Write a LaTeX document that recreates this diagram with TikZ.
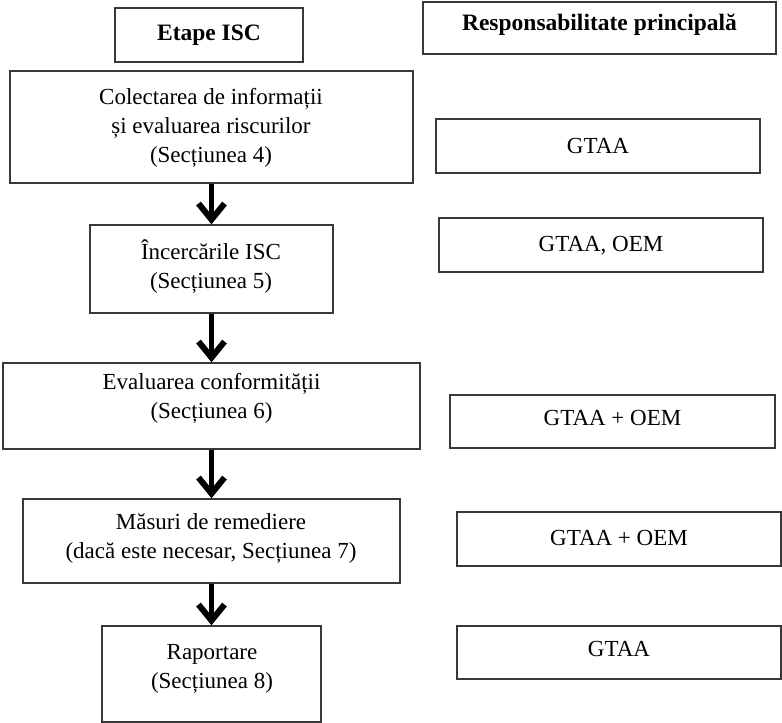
\documentclass[tikz,border=0pt]{standalone}
\usepackage{fontspec}
\setmainfont{Liberation Serif}
\usetikzlibrary{arrows.meta}
\begin{document}
\begin{tikzpicture}[x=1pt,y=-1pt,
  box/.style={draw=black!78,line width=1.4pt,fill=white,rectangle,inner sep=0pt},
  txt/.style={align=center,inner sep=0pt,font=\fontsize{23}{29}\selectfont},
  head/.style={align=center,inner sep=0pt,font=\fontsize{23.5}{29}\selectfont\bfseries},
  flow/.style={line width=5.5pt,-{Straight Barb[length=16pt,width=26pt,line width=6pt]}}]
\useasboundingbox (0,0) rectangle (782,723);
% headers
\node[box,minimum width=188pt,minimum height=54pt] (h1) at (209,35) {};
\node[head] (h1t) at (209,35) {Etape ISC};
\node[box,minimum width=353pt,minimum height=52pt] (h2) at (599.5,28) {};
\node[head] (h2t) at (599.5,25) {Responsabilitate principală};
% stages
\node[box,minimum width=403pt,minimum height=112pt] (s1) at (211.5,127) {};
\node[txt] (s1t) at (211,128) {Colectarea de informații\\și evaluarea riscurilor\\(Secțiunea 4)};
\node[box,minimum width=243pt,minimum height=88pt] (s2) at (211.5,269) {};
\node[txt] (s2t) at (211,267) {Încercările ISC\\(Secțiunea 5)};
\node[box,minimum width=417pt,minimum height=86pt] (s3) at (211.5,406) {};
\node[txt] (s3t) at (211.5,398) {Evaluarea conformității\\(Secțiunea 6)};
\node[box,minimum width=377pt,minimum height=84pt] (s4) at (211.5,541) {};
\node[txt] (s4t) at (211,538) {Măsuri de remediere\\(dacă este necesar, Secțiunea 7)};
\node[box,minimum width=219pt,minimum height=96pt] (s5) at (211.5,674) {};
\node[txt] (s5t) at (212,669) {Raportare\\(Secțiunea 8)};
% responsibilities
\node[box,minimum width=324pt,minimum height=54pt] (r1) at (598,146) {};
\node[txt] (r1t) at (598,146) {GTAA};
\node[box,minimum width=324pt,minimum height=54pt] (r2) at (601,245) {};
\node[txt] (r2t) at (601,246) {GTAA, OEM};
\node[box,minimum width=325pt,minimum height=53pt] (r3) at (612.5,421.5) {};
\node[txt] (r3t) at (612.5,418) {GTAA + OEM};
\node[box,minimum width=324pt,minimum height=54pt] (r4) at (619,539) {};
\node[txt] (r4t) at (619,538) {GTAA + OEM};
\node[box,minimum width=324pt,minimum height=53pt] (r5) at (619,652.5) {};
\node[txt] (r5t) at (619,649) {GTAA};
% arrows
\draw[flow] (s1.south) -- (s2.north);
\draw[flow] (s2.south) -- (s3.north);
\draw[flow] (s3.south) -- (s4.north);
\draw[flow] (s4.south) -- (s5.north);
\end{tikzpicture}
\end{document}
